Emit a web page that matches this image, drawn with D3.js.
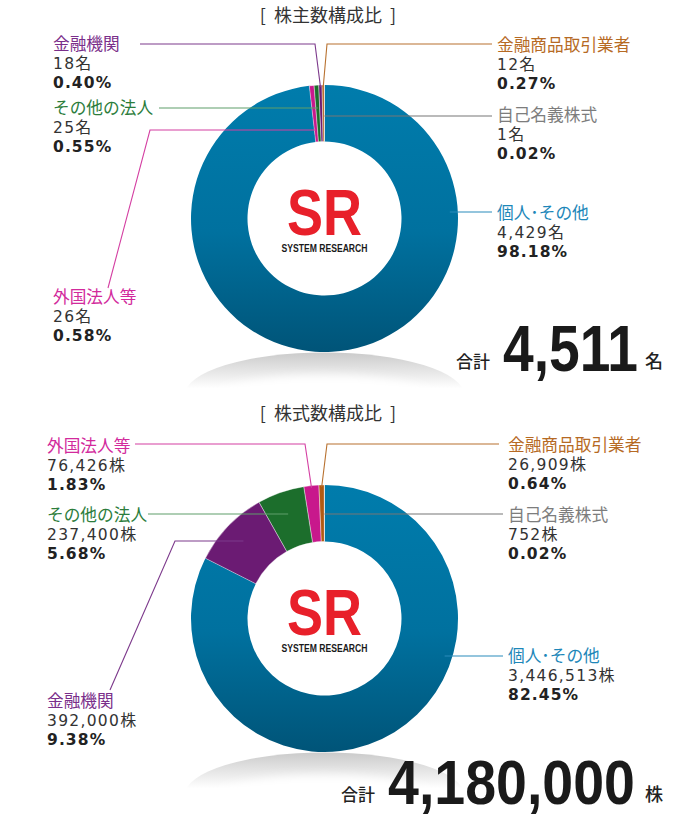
<!DOCTYPE html>
<html><head><meta charset="utf-8">
<script src="https://cdn.jsdelivr.net/npm/d3@7"></script>
<style>body{margin:0;background:#fff}svg{display:block}</style>
</head><body>
<svg id="c" width="686" height="817"></svg>
<script>
// ---- data ----
const categories = ["個人･その他","外国法人等","その他の法人","金融機関","金融商品取引業者","自己名義株式"];
const holderCounts = [4429, 26, 25, 18, 12, 1];
const holderPct = [98.18, 0.58, 0.55, 0.40, 0.27, 0.02];
const shareCounts = [3446513, 76426, 237400, 392000, 26909, 752];
const sharePct = [82.45, 1.83, 5.68, 9.38, 0.64, 0.02];
const titles = ["[ 株主数構成比 ]", "[ 株式数構成比 ]"];
const totals = [4511, 4180000];
const units = ["名", "株"];
const totalLabel = "合計";

// ---- styles ----
const sliceColors = ["url(#blueGrad)", "#c8188c", "#1c6e2c", "#6b1b73", "#b15a12", "#8a8a8a"];
const labelColors = ["#1d87b9", "#d22a9c", "#2c7d3c", "#7a2e8a", "#b66a24", "#7d7d7d"];
const lineColors  = ["#2a8bbb", "#d43fa2", "#5f9e6a", "#7d3a8c", "#b8712f", "#777777"];
const JP = "'Noto Sans CJK JP', sans-serif";
const NUM = "'DejaVu Sans', sans-serif";

const svg = d3.select("#c");
const defs = svg.append("defs");
const bg = defs.append("linearGradient").attr("id","blueGrad").attr("x1",0).attr("y1",0).attr("x2",0).attr("y2",1);
bg.append("stop").attr("offset","0%").attr("stop-color","#007cac");
bg.append("stop").attr("offset","55%").attr("stop-color","#00719f");
bg.append("stop").attr("offset","100%").attr("stop-color","#005478");
const blur = defs.append("filter").attr("id","blur").attr("x","-20%").attr("y","-50%").attr("width","140%").attr("height","200%");
blur.append("feGaussianBlur").attr("stdDeviation",5);

const cx = 324.5, R = 133.5, r = 77;
const pie = d3.pie(); // default: descending by value
const arc = d3.arc().innerRadius(r).outerRadius(R);

const charts = [
  { cy: 218.5, values: holderCounts, pct: holderPct, titleY: 22, totalY: 371,
    sumX: [456, 503, 645], numW: 135, numSize: 64,
    labels: [
      {x:497, y:219, pts:[[492,212]], end:"edge"},
      {x:53,  y:303, pts:[[108,288],[150,130]], end:"ray"},
      {x:53,  y:114, pts:[[159,108]], end:"ray"},
      {x:53,  y:50,  pts:[[140,44],[315,44]], end:"outer"},
      {x:497, y:51,  pts:[[492,44],[327,44]], end:"outer"},
      {x:497, y:121, pts:[[492,116]], end:"ray"}
    ]},
  { cy: 618.5, values: shareCounts, pct: sharePct, titleY: 420, totalY: 803.5,
    sumX: [341, 388, 645], numW: 247, numSize: 63,
    labels: [
      {x:508, y:662, pts:[[503,656]], end:"edge"},
      {x:47,  y:452, pts:[[135,444],[305,444]], end:"outer"},
      {x:47,  y:521, pts:[[148,514]], end:"ray"},
      {x:47,  y:707, pts:[[110,690],[175,541]], end:"ray"},
      {x:508, y:451, pts:[[499,444],[327,444]], end:"outer"},
      {x:508, y:521, pts:[[503,514]], end:"ray"}
    ]}
];

charts.forEach((c, k) => {
  const cy = c.cy;
  // title
  svg.append("text").attr("x", 328).attr("y", c.titleY).attr("text-anchor","middle")
    .attr("font-family", JP).attr("font-size", 18).attr("fill","#333")
    .attr("xml:space","preserve").text(titles[k].replace("[ ", "[  ").replace(" ]", "  ]"));

  // shadow swoosh
  const sg = defs.append("linearGradient").attr("id","sh"+k).attr("gradientUnits","userSpaceOnUse")
    .attr("x1",0).attr("y1",cy+134).attr("x2",0).attr("y2",cy+170);
  sg.append("stop").attr("offset","0%").attr("stop-color","#cbcbcb");
  sg.append("stop").attr("offset","100%").attr("stop-color","#ffffff");
  svg.append("ellipse").attr("cx",cx).attr("cy",cy+177).attr("rx",140).attr("ry",43).attr("fill","url(#sh"+k+")");
  svg.append("ellipse").attr("cx",cx).attr("cy",cy+187).attr("rx",120).attr("ry",30).attr("fill","#fff").attr("filter","url(#blur)");
  svg.append("rect").attr("x",170).attr("y",cy+174).attr("width",320).attr("height",40).attr("fill","#fff").attr("filter","url(#blur)");

  // donut
  const arcs = pie(c.values);
  const g = svg.append("g").attr("transform", `translate(${cx},${cy})`);
  g.selectAll("path").data(arcs).join("path")
    .attr("d", arc)
    .attr("fill", (d,i) => sliceColors[i])
    .attr("stroke", (d,i) => i === 0 ? "none" : "#fff")
    .attr("stroke-width", 0.4);

  // logo
  g.append("text").attr("x", 0).attr("y", 16).attr("text-anchor","middle")
    .attr("font-family","'Liberation Sans', Arial, sans-serif").attr("font-weight","bold")
    .attr("font-size", 64).attr("fill","#e8202a")
    .attr("textLength", 75).attr("lengthAdjust","spacingAndGlyphs").text("SR");
  g.append("text").attr("x", 0).attr("y", 33.5).attr("text-anchor","middle")
    .attr("font-family","'Liberation Sans', Arial, sans-serif").attr("font-weight","bold")
    .attr("font-size", 11.5).attr("fill","#1a1a1a")
    .attr("textLength", 86).attr("lengthAdjust","spacingAndGlyphs").text("SYSTEM RESEARCH");

  // leader lines + labels
  c.labels.forEach((L, i) => {
    const d = arcs[i];
    const a = (d.startAngle + d.endAngle) / 2;
    let ex, ey;
    if (L.end === "outer") {
      ex = cx + Math.sin(a) * (R - 2); ey = cy - Math.cos(a) * (R - 2);
    } else if (L.end === "ray") {
      const ly = L.pts[L.pts.length - 1][1];
      const rad = (cy - ly) / Math.cos(a);
      ex = cx + Math.sin(a) * rad; ey = ly;
    } else {
      const ly = L.pts[L.pts.length - 1][1];
      ex = cx + Math.sqrt(R * R - (ly - cy) * (ly - cy)) - 8; ey = ly;
    }
    const pts = L.pts.concat([[ex, ey]]);
    svg.append("path").attr("d", d3.line()(pts)).attr("fill","none")
      .attr("stroke", lineColors[i]).attr("stroke-width", 1.1);

    svg.append("text").attr("x", L.x).attr("y", L.y)
      .attr("font-family", JP).attr("font-size", 16.7).attr("fill", labelColors[i]).text(categories[i]);
    const t = svg.append("text").attr("x", L.x).attr("y", L.y + 19).attr("fill", "#333");
    t.append("tspan").attr("font-family", NUM).attr("font-size", 15.5).attr("letter-spacing", 1.3)
      .text(d3.format(",")(c.values[i]));
    t.append("tspan").attr("font-family", JP).attr("font-size", 16).text(units[k]);
    svg.append("text").attr("x", L.x).attr("y", L.y + 37.5)
      .attr("font-family", NUM).attr("font-weight","bold").attr("font-size", 15.5)
      .attr("letter-spacing", 1.1).attr("fill", "#222")
      .text(d3.format(".2f")(c.pct[i]) + "%");
  });

  // total
  svg.append("text").attr("x", c.sumX[0]).attr("y", c.totalY - 3)
    .attr("font-family", JP).attr("font-weight", 500).attr("font-size", 17).attr("fill","#222").text(totalLabel);
  svg.append("text").attr("x", c.sumX[1]).attr("y", c.totalY)
    .attr("font-family","'Liberation Sans', Arial, sans-serif").attr("font-weight","bold")
    .attr("font-size", c.numSize).attr("fill","#1a1a1a")
    .attr("textLength", c.numW).attr("lengthAdjust","spacingAndGlyphs")
    .text(d3.format(",")(totals[k]));
  svg.append("text").attr("x", c.sumX[2]).attr("y", c.totalY - 3)
    .attr("font-family", JP).attr("font-weight", 500).attr("font-size", 18).attr("fill","#222").text(units[k]);
});
</script>
</body></html>
